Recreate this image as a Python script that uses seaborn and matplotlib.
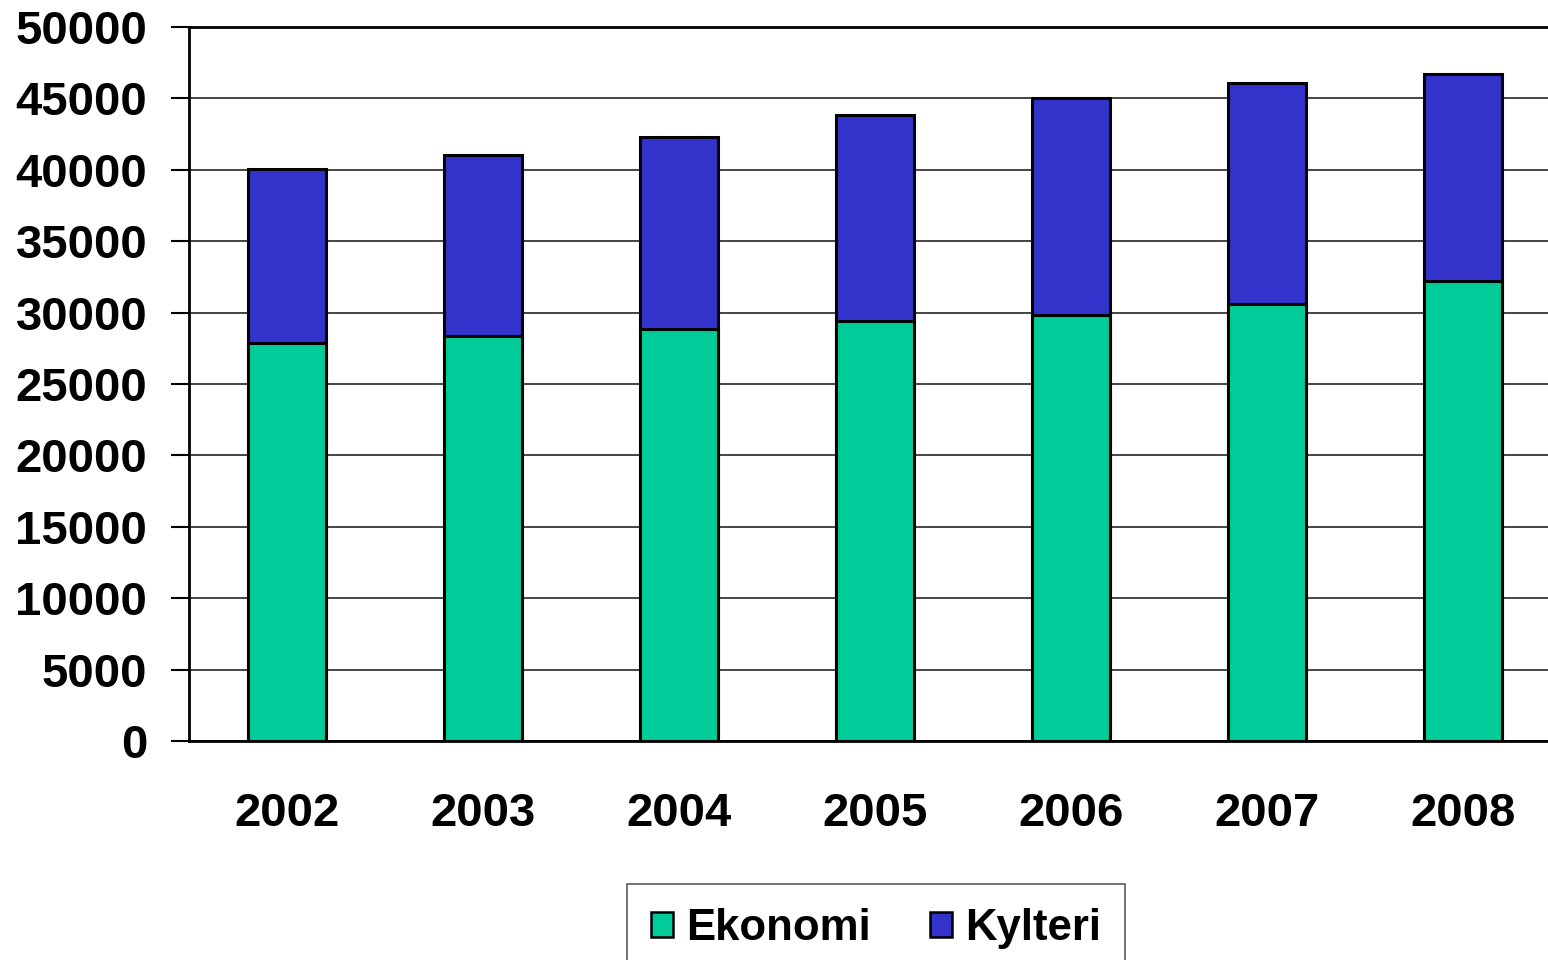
import pandas as pd
import matplotlib.pyplot as plt
import seaborn as sns
from matplotlib.patches import Patch
from matplotlib.ticker import MultipleLocator

years = ["2002", "2003", "2004", "2005", "2006", "2007", "2008"]
ekonomi = [27870, 28360, 28850, 29410, 29830, 30600, 32210]
kylteri = [12180, 12680, 13450, 14430, 15200, 15480, 14500]

green = "#00CC99"
blue = "#3333CC"

df = pd.DataFrame({"year": years, "Ekonomi": ekonomi, "Kylteri": kylteri})
df["total"] = df["Ekonomi"] + df["Kylteri"]

sns.set_style("white")
plt.rcParams["font.family"] = ["Liberation Sans", "DejaVu Sans"]
plt.rcParams["text.color"] = "black"
plt.rcParams["xtick.color"] = "black"
plt.rcParams["ytick.color"] = "black"

fig = plt.figure(figsize=(15.48, 9.6), dpi=100)
ax = fig.add_axes([189 / 1548, 1 - 741 / 960, (1561 - 189) / 1548, (741 - 27) / 960])

# stacked: draw totals first, then the lower segment on top
sns.barplot(data=df, x="year", y="total", color=blue, width=0.4, saturation=1,
            edgecolor="black", linewidth=2.2, ax=ax, zorder=3)
sns.barplot(data=df, x="year", y="Ekonomi", color=green, width=0.4, saturation=1,
            edgecolor="black", linewidth=2.2, ax=ax, zorder=4)

ax.set_xlim(-0.5, 6.5)
ax.set_ylim(0, 50000)
ax.yaxis.set_major_locator(MultipleLocator(5000))
ax.grid(axis="y", color="#444444", linewidth=1.4, zorder=0)
ax.set_axisbelow(True)

for side in ["left", "bottom", "top"]:
    ax.spines[side].set_visible(True)
    ax.spines[side].set_color("black")
    ax.spines[side].set_linewidth(2)
ax.spines["right"].set_visible(False)

ax.set_xlabel("")
ax.set_ylabel("")
ax.set_xticks(range(len(years)))
ax.set_xticklabels(years)
ax.set_xticks([i - 0.5 for i in range(len(years) + 1)], minor=True)
ax.tick_params(axis="x", which="major", length=0, pad=37)
ax.tick_params(axis="x", which="minor", length=14, width=1.5, color="black", direction="out")
ax.tick_params(axis="y", length=13, width=1.5, color="black", direction="out", pad=17, left=True)
ax.tick_params(axis="both", labelsize=34, labelcolor="black")
for lab in ax.get_xticklabels() + ax.get_yticklabels():
    lab.set_fontweight("bold")

handles = [Patch(facecolor=green, edgecolor="black", linewidth=1.8, label="Ekonomi"),
           Patch(facecolor=blue, edgecolor="black", linewidth=1.8, label="Kylteri")]
leg = fig.legend(handles=handles, loc="upper center", bbox_to_anchor=(876 / 1548, 1 - 884 / 960),
                 ncol=2, frameon=True, fancybox=False, edgecolor="#333333",
                 prop={"size": 31.5, "weight": "bold"}, handlelength=0.5, handleheight=0.5,
                 handletextpad=0.3, columnspacing=1.35, borderpad=0.55, borderaxespad=0)
leg.get_frame().set_linewidth(1.2)

fig.savefig("out.png", dpi=100)
